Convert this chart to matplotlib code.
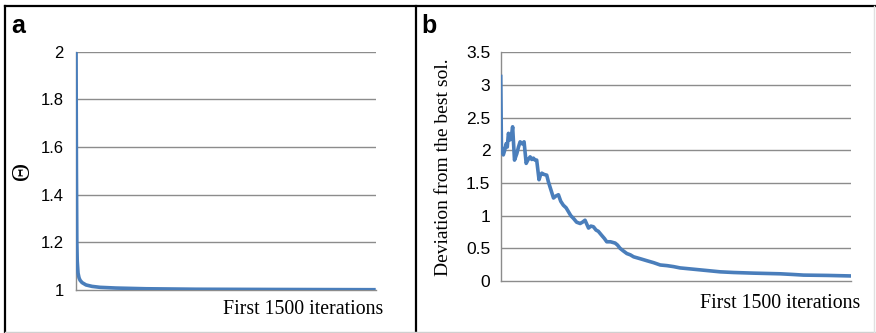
import matplotlib
matplotlib.use("Agg")
import matplotlib.pyplot as plt
from matplotlib.lines import Line2D

# panel a: theta over the first 1500 iterations
iter_a = [0, 2, 4, 6, 10, 15, 20, 30, 50, 80, 120, 200, 350, 600, 1000, 1500]
theta = [2.0, 1.5, 1.2, 1.12, 1.07, 1.05, 1.04, 1.03, 1.02, 1.014, 1.01,
         1.007, 1.004, 1.002, 1.001, 1.0]

# panel b: deviation from the best solution
iter_b = [0, 3, 11, 17, 23, 28, 33, 40, 45, 51, 59, 64, 69, 76, 83, 92, 100,
          109, 116, 126, 133, 140, 147, 154, 164, 170, 176, 186, 197, 204,
          211, 226, 236, 247, 257, 268, 280, 290, 300, 311, 325, 340, 350,
          361, 376, 386, 397, 408, 418, 432, 444, 454, 470, 490, 500, 511,
          525, 540, 555, 569, 598, 626, 655, 683, 712, 740, 768, 797, 840,
          883, 940, 997, 1040, 1083, 1140, 1197, 1250, 1297, 1400, 1500]
deviation = [3.13, 2.06, 1.93, 2.0, 2.1, 2.05, 2.26, 2.16, 2.2, 2.36, 1.85,
             1.9, 1.95, 2.05, 2.13, 2.1, 2.13, 1.8, 1.85, 1.9, 1.86, 1.88,
             1.85, 1.85, 1.55, 1.62, 1.65, 1.63, 1.62, 1.52, 1.44, 1.27, 1.3,
             1.32, 1.22, 1.16, 1.12, 1.06, 1.0, 0.96, 0.9, 0.88, 0.9, 0.93,
             0.81, 0.84, 0.83, 0.78, 0.76, 0.7, 0.65, 0.6, 0.6, 0.58, 0.55,
             0.5, 0.46, 0.42, 0.4, 0.37, 0.34, 0.31, 0.28, 0.245, 0.235,
             0.22, 0.2, 0.19, 0.175, 0.16, 0.14, 0.13, 0.125, 0.12, 0.115,
             0.11, 0.1, 0.09, 0.085, 0.077]

yticks_a = [1, 1.2, 1.4, 1.6, 1.8, 2]
yticks_b = [0, 0.5, 1, 1.5, 2, 2.5, 3, 3.5]

blue = "#4a7ebb"
grid = "#8c8c8c"
sans = "Liberation Sans"
serif = "Liberation Serif"

fig = plt.figure(figsize=(8.76, 3.33), dpi=100)

def style(ax, ticks, pad, size):
    ax.set_xlim(0, 1500)
    ax.set_ylim(ticks[0], ticks[-1])
    ax.set_yticks(ticks)
    ax.set_yticklabels([("%g" % t) for t in ticks], fontfamily=sans, fontsize=size)
    ax.set_xticks([])
    ax.tick_params(axis="y", length=0, pad=pad)
    for t in ticks[1:]:
        ax.axhline(t, color=grid, lw=1, zorder=1)
    for s in ["top", "right"]:
        ax.spines[s].set_visible(False)
    for s in ["left", "bottom"]:
        ax.spines[s].set_color(grid)
        ax.spines[s].set_linewidth(1)

ax1 = fig.add_axes([0.0868, 0.130, 0.3421, 0.7147])
ax1.plot(iter_a, theta, color=blue, lw=2.6, zorder=3, solid_capstyle="butt")
style(ax1, yticks_a, 9, 12)

ax2 = fig.add_axes([0.5716, 0.1562, 0.3999, 0.6867])
ax2.plot(iter_b, deviation, color=blue, lw=2.6, zorder=3, solid_joinstyle="round")
style(ax2, yticks_b, 7.5, 12.5)

# labels
fig.text(383 / 876, 1 - 310 / 333, "First 1500 iterations", ha="right", va="center",
         fontfamily=serif, fontsize=14.3)
fig.text(860 / 876, 1 - 303 / 333, "First 1500 iterations", ha="right", va="center",
         fontfamily=serif, fontsize=14.3)
fig.text(23 / 876, 1 - 171 / 333, "\u0398", rotation=90, ha="center", va="center",
         fontfamily=serif, fontsize=18)
fig.text(443 / 876, 1 - 167 / 333, "Deviation from the best sol.", rotation=90,
         ha="center", va="center", fontfamily=serif, fontsize=14)
fig.text(11 / 876, 1 - 33 / 333, "a", ha="left", va="baseline", fontfamily=sans,
         fontweight="bold", fontsize=18)
fig.text(421 / 876, 1 - 33 / 333, "b", ha="left", va="baseline", fontfamily=sans,
         fontweight="bold", fontsize=18)

# frame around the panels
def fline(x0, y0, x1, y1, color, lw):
    fig.add_artist(Line2D([x0 / 876, x1 / 876], [1 - y0 / 333, 1 - y1 / 333],
                          color=color, lw=lw))

fline(5, 6, 876, 6, "black", 1.6)
fline(5, 6, 5, 333, "black", 1.6)
fline(416, 6, 416, 333, "black", 1.6)
fline(5, 332, 876, 332, "#d0d0d0", 1)
fline(874, 6, 874, 333, "#e0e0e0", 1)

fig.savefig("out.png", dpi=100)
